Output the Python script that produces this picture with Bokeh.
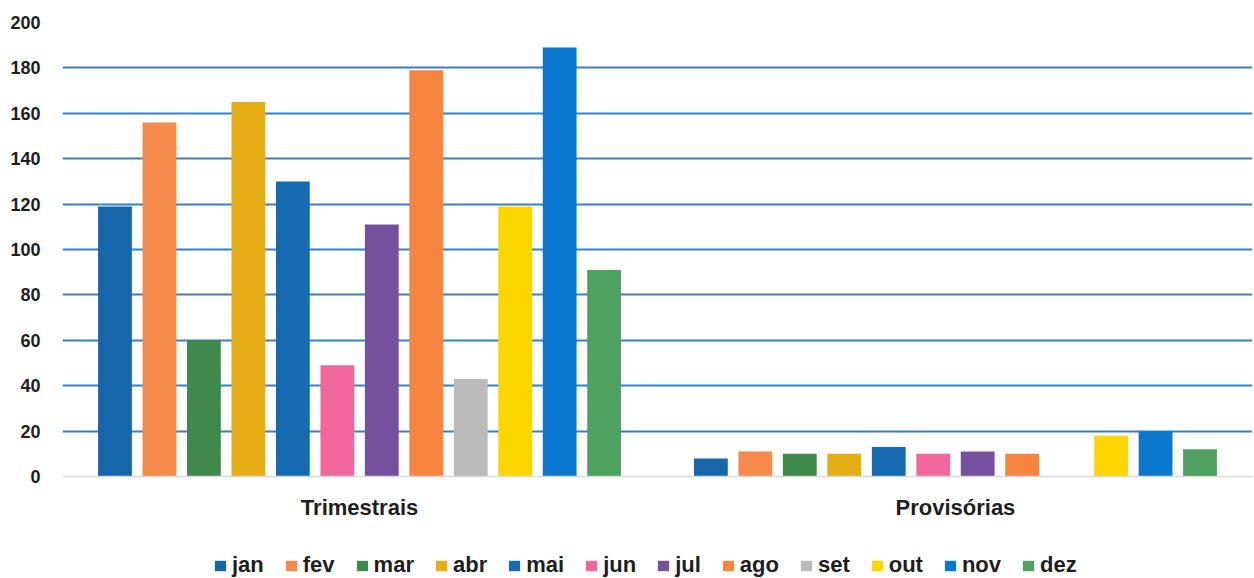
from bokeh.plotting import figure
from bokeh.models import ColumnDataSource, FactorRange, Range1d, Legend, LegendItem, FixedTicker
from bokeh.transform import factor_cmap
from bokeh.embed import file_html
from bokeh.resources import INLINE

groups = ["Trimestrais", "Provisórias"]
months = ["jan", "fev", "mar", "abr", "mai", "jun", "jul", "ago", "set", "out", "nov", "dez"]
trimestrais = [119, 156, 60, 165, 130, 49, 111, 179, 43, 119, 189, 91]
provisorias = [8, 11, 10, 10, 13, 10, 11, 10, 0, 18, 20, 12]
colors = ["#1765AB", "#F68A4B", "#3E894B", "#E6AE16", "#166AAF", "#F0689B",
          "#74509E", "#F7853F", "#BABABA", "#FDD600", "#0A78CF", "#4EA15F"]
y_ticks = list(range(0, 201, 20))

x = [(g, m) for g in groups for m in months]
tops = trimestrais + provisorias
src = ColumnDataSource(dict(x=x, top=tops, month=months * 2))

FONT = "Liberation Sans"
TXT = "#1e1e1e"

p = figure(x_range=FactorRange(*x, group_padding=1.4, range_padding=0.68,
                               range_padding_units="absolute"),
           y_range=Range1d(-44.9, 200), width=1252, height=578,
           output_backend="svg", toolbar_location=None,
           min_border_left=62, min_border_right=0, min_border_top=22,
           min_border_bottom=0)
p.outline_line_color = None
p.background_fill_color = "white"

r = p.vbar(x="x", top="top", width=0.76, source=src, line_color=None,
           fill_color=factor_cmap("month", palette=colors, factors=months))

# x axis drawn at y = 0
xa = p.xaxis[0]
xa.fixed_location = 0
xa.major_label_text_font_size = "1px"
xa.major_label_text_alpha = 0
xa.major_label_standoff = 12
xa.major_tick_line_color = None
xa.minor_tick_line_color = None
xa.axis_line_color = "#d9d9d9"
xa.axis_line_width = 1.5
xa.separator_line_alpha = 0
xa.group_text_font = FONT
xa.group_text_font_size = "22px"
xa.group_text_font_style = "bold"
xa.group_text_color = TXT

# y axis
ya = p.yaxis[0]
ya.ticker = FixedTicker(ticks=y_ticks)
ya.axis_line_color = None
ya.major_tick_line_color = None
ya.minor_tick_line_color = None
ya.major_label_text_font = FONT
ya.major_label_text_font_size = "18px"
ya.major_label_text_font_style = "bold"
ya.major_label_text_color = TXT
ya.major_label_standoff = 16

p.xgrid.grid_line_color = None
p.ygrid.ticker = FixedTicker(ticks=y_ticks[1:])
p.ygrid.grid_line_color = "#3580C3"
p.ygrid.grid_line_width = 1.8

items = [LegendItem(label=m, renderers=[r], index=i) for i, m in enumerate(months)]
legend = Legend(items=items, orientation="horizontal", location=(151, 0),
                glyph_width=14, glyph_height=13, label_standoff=5, spacing=20,
                label_text_font=FONT, label_text_font_size="22px",
                label_text_font_style="bold", label_text_color=TXT,
                border_line_color=None, background_fill_alpha=0,
                margin=0, padding=0)
p.add_layout(legend)

open("out.html", "w").write(file_html(p, INLINE))
